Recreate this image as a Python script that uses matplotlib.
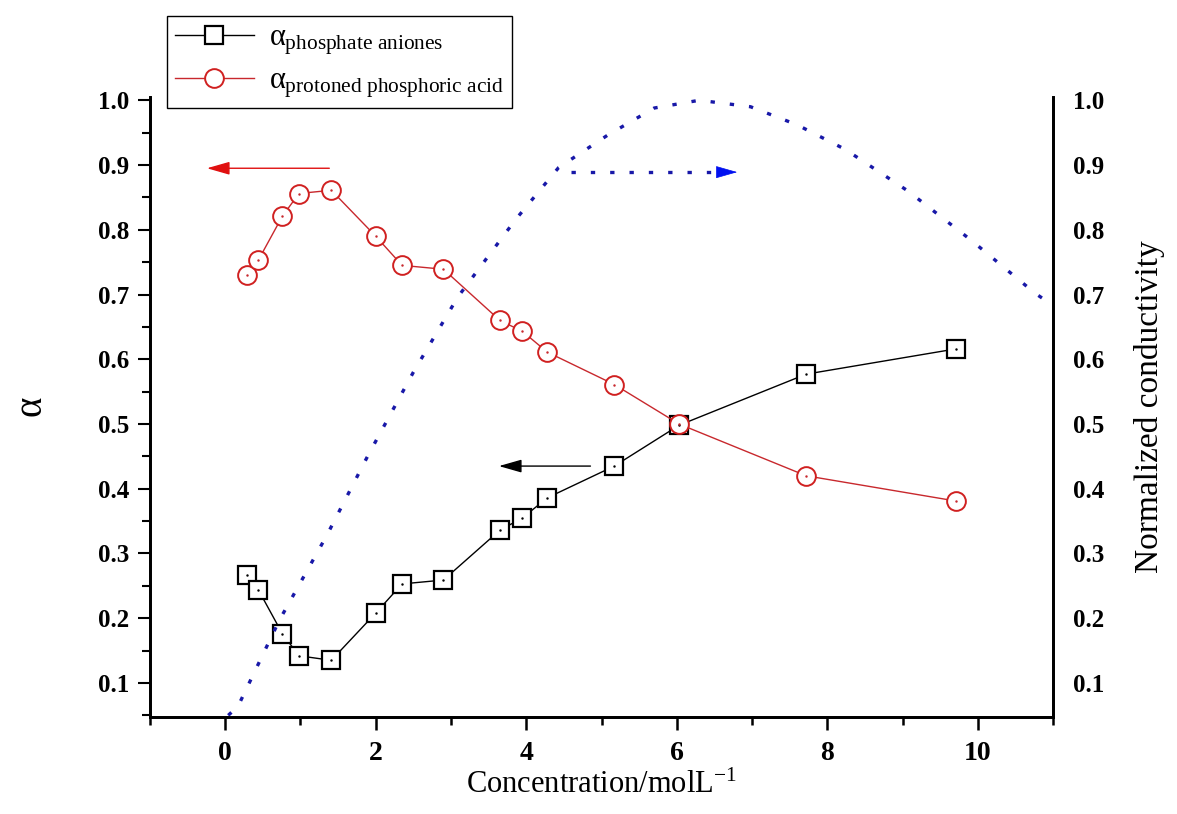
import numpy as np
import matplotlib
matplotlib.use('Agg')
import matplotlib.pyplot as plt
from matplotlib.ticker import MultipleLocator

plt.rcParams['font.family'] = ['Liberation Serif', 'DejaVu Serif']
plt.rcParams['mathtext.fontset'] = 'custom'
plt.rcParams['mathtext.rm'] = 'Liberation Serif'
plt.rcParams['mathtext.it'] = 'Liberation Serif'

# concentration (mol/L) and alpha fractions
conc = [0.29, 0.44, 0.76, 0.98, 1.41, 2.00, 2.35, 2.90, 3.65, 3.95, 4.28, 5.17, 6.03, 7.72, 9.71]
alpha_anion = [0.267, 0.244, 0.176, 0.142, 0.135, 0.208, 0.253, 0.259, 0.336, 0.355,
               0.386, 0.435, 0.498, 0.577, 0.616]
alpha_acid = [0.730, 0.753, 0.821, 0.856, 0.861, 0.790, 0.745, 0.739, 0.660, 0.643,
              0.611, 0.561, 0.500, 0.420, 0.381]

# normalized conductivity curve (right axis)
cond_x = [0.04, 0.17, 0.72, 1.35, 1.90, 2.50, 3.09, 3.86, 4.43, 5.08, 5.70, 6.30,
          6.98, 7.60, 8.24, 9.07, 9.91, 10.76, 11.0]
cond_y = [0.050, 0.064, 0.197, 0.328, 0.452, 0.580, 0.696, 0.816, 0.896, 0.946, 0.988,
          1.000, 0.990, 0.962, 0.924, 0.860, 0.784, 0.702, 0.683]

# arrows: (x_start, x_end, y)
arrow_acid = (1.42, -0.28, 0.895)
arrow_anion = (4.89, 3.60, 0.435)
arrow_cond = (4.59, 6.84, 0.889)

BLUE = '#1818a8'
RED = '#c8282d'

fig = plt.figure(figsize=(11.77, 8.14), dpi=100)
ax = fig.add_axes([0.1274, 0.1192, 0.7673, 0.7616])
ax2 = ax.twinx()

ax.plot(conc, alpha_anion, '-', color='black', lw=1.0, marker='s', ms=12.5,
        mfc='white', mec='black', mew=1.6, zorder=3,
        label=r'$\alpha_{\mathrm{phosphate\ aniones}}$')
ax.plot(conc, alpha_acid, '-', color=RED, lw=1.0, marker='o', ms=13.5,
        mfc='white', mec='#d02020', mew=1.4, zorder=3,
        label=r'$\alpha_{\mathrm{protoned\ phosphoric\ acid}}$')
# little centre dots inside markers (Origin style)
ax.plot(conc, alpha_anion, ls='none', marker='.', ms=1.5, color='black', zorder=4)
ax.plot(conc, alpha_acid, ls='none', marker='.', ms=1.5, color=RED, zorder=4)

ax2.plot(cond_x, cond_y, color=BLUE, lw=2.4, linestyle=(0, (1.3, 4.5)))

ax.annotate('', xy=(arrow_acid[1], arrow_acid[2]), xytext=(arrow_acid[0], arrow_acid[2]),
            arrowprops=dict(arrowstyle='-|>,head_length=1.4,head_width=0.4',
                            color='#e01010', lw=1.0))
ax.annotate('', xy=(arrow_anion[1], arrow_anion[2]), xytext=(arrow_anion[0], arrow_anion[2]),
            arrowprops=dict(arrowstyle='-|>,head_length=1.4,head_width=0.4',
                            color='black', lw=1.0))
ax2.plot([arrow_cond[0], arrow_cond[1] - 0.2], [arrow_cond[2]] * 2, color=BLUE, lw=2.4,
         linestyle=(0, (1.3, 4.5)))
ax2.annotate('', xy=(arrow_cond[1], arrow_cond[2]), xytext=(arrow_cond[1] - 0.25, arrow_cond[2]),
             arrowprops=dict(arrowstyle='-|>,head_length=1.4,head_width=0.4',
                             color='#0010f0', lw=0.5))

ax.set_xlim(-1, 11)
ax.set_ylim(0.0475, 1.005)
ax2.set_ylim(0.0475, 1.005)

ax.xaxis.set_major_locator(MultipleLocator(2))
ax.xaxis.set_minor_locator(MultipleLocator(1))
ax.yaxis.set_major_locator(MultipleLocator(0.1))
ax.yaxis.set_minor_locator(MultipleLocator(0.05))
ax2.yaxis.set_major_locator(MultipleLocator(0.1))

for a in (ax, ax2):
    a.spines['top'].set_visible(False)
    for s in ('left', 'right', 'bottom'):
        a.spines[s].set_linewidth(2.0)

ax.tick_params(axis='x', which='major', direction='out', length=9, width=1.8,
               labelsize=20, pad=8)
ax.tick_params(axis='x', which='minor', direction='out', length=6, width=1.8)
ax.tick_params(axis='y', which='major', direction='out', length=9, width=1.5,
               labelsize=18, pad=6)
ax.tick_params(axis='y', which='minor', direction='out', length=6, width=1.5)
ax2.tick_params(axis='y', which='both', length=0, labelsize=18, pad=14)
for lab in ax.get_xticklabels() + ax.get_yticklabels() + ax2.get_yticklabels():
    lab.set_fontweight('bold')

ax.set_xlabel(r'Concentration/molL$^{\mathrm{-1}}$', fontsize=22, labelpad=4)
ax.set_ylabel(r'$\alpha$', fontsize=28, labelpad=34)
ax2.set_ylabel('Normalized conductivity', fontsize=24, labelpad=22)

fig.legend(loc='upper left', bbox_to_anchor=(0.142, 0.980), borderaxespad=0,
           fontsize=22, frameon=True, fancybox=False, edgecolor='black',
           framealpha=1, handlelength=2.6, handletextpad=0.5, labelspacing=0.3,
           borderpad=0.25)

fig.savefig('out.png', dpi=100)
